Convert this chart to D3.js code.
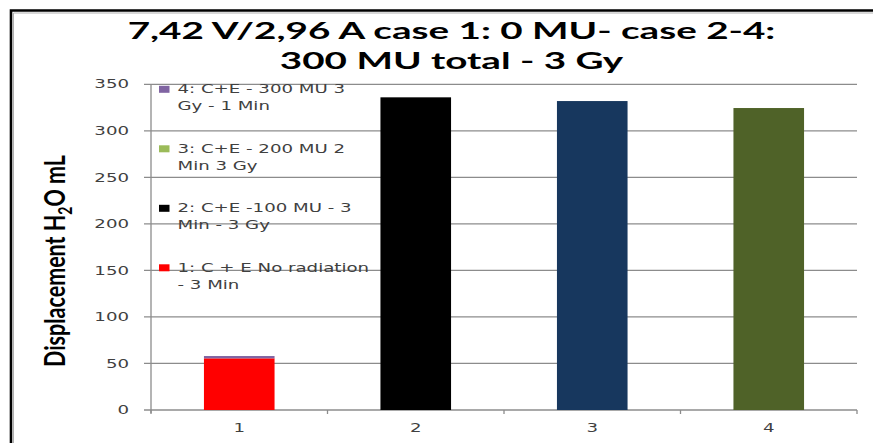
<!DOCTYPE html>
<html>
<head>
<meta charset="utf-8">
<script src="https://cdn.jsdelivr.net/npm/d3@7"></script>
<style>
  html, body { margin: 0; padding: 0; background: #fff; }
  svg { display: block; }
</style>
</head>
<body>
<svg id="chart" width="873" height="443"></svg>
<script>
// ---- data ----
const categories = ["1", "2", "3", "4"];
const seriesNames = ["case1", "case2", "case3", "case4"];
const seriesLabels = [
  ["1: C + E No radiation", "- 3 Min"],
  ["2: C+E -100 MU - 3", "Min - 3 Gy"],
  ["3: C+E - 200 MU 2", "Min 3 Gy"],
  ["4: C+E - 300 MU 3", "Gy - 1 Min"]
];
const case1 = [55.5, 0, 0, 0];
const case2 = [0, 336, 0, 0];
const case3 = [0, 0, 332, 0];
const case4 = [2.5, 0, 0, 324.5];
const seriesColors = ["#FF0000", "#000000", "#9BBB59", "#8064A2"];
// per-point fill overrides (series -> category -> colour)
const pointColors = { case3: { "3": "#17375E" }, case4: { "4": "#4F6228" } };
const yTicks = [0, 50, 100, 150, 200, 250, 300, 350];
const titleLines = ["7,42 V/2,96 A case 1: 0 MU- case 2-4:", "300 MU total - 3 Gy"];

// ---- layout ----
const svg = d3.select("#chart");
const plot = { left: 151, right: 857, top: 84.3, bottom: 410 };
const smallFont = "'DejaVu Sans', sans-serif";
const smallSize = 11.5;
const smallSx = 1.58;
const textGray = "#404040";
const gridGray = "#8C8C8C";

const x = d3.scaleBand().domain(categories)
  .range([plot.left, plot.right]).paddingInner(0.6).paddingOuter(0.3);
const y = d3.scaleLinear().domain([0, 350]).range([plot.bottom, plot.top]);

// horizontally stretched text helper
function label(parent, px, py, str, opts) {
  const t = parent.append("text")
    .attr("transform", `translate(${px},${py}) scale(${opts.sx || 1},1)`)
    .attr("text-anchor", opts.anchor || "start")
    .attr("font-family", opts.font || smallFont)
    .attr("font-size", opts.size || smallSize)
    .attr("font-weight", opts.weight || "normal")
    .attr("fill", opts.fill || textGray);
  if (opts.dy) t.attr("dy", opts.dy);
  t.text(str);
  return t;
}

// chart frame
svg.append("path")
  .attr("d", "M11,443 V10.5 H873")
  .attr("fill", "none").attr("stroke", "#000").attr("stroke-width", 2.6);
svg.append("path")
  .attr("d", "M13.5,443 V13 H873")
  .attr("fill", "none").attr("stroke", "#b0b0b0").attr("stroke-width", 1);

// title
const titleG = svg.append("g");
titleLines.forEach((line, i) => {
  label(titleG, 451.5, 39.3 + i * 30, line, {
    font: "Lato, 'Open Sans', sans-serif", size: 23, weight: "bold",
    sx: 1.68, anchor: "middle", fill: "#000"
  });
});

// gridlines + y ticks
const gridG = svg.append("g");
gridG.selectAll("line").data(yTicks).join("line")
  .attr("x1", plot.left - 7).attr("x2", plot.right)
  .attr("y1", d => y(d)).attr("y2", d => y(d))
  .attr("stroke", gridGray).attr("stroke-width", 1.3);
yTicks.forEach(v => {
  label(gridG, 129, y(v), String(v), { anchor: "end", sx: smallSx, dy: "0.36em" });
});

// y axis line
svg.append("line")
  .attr("x1", plot.left).attr("x2", plot.left)
  .attr("y1", plot.top).attr("y2", plot.bottom + 3)
  .attr("stroke", gridGray).attr("stroke-width", 1.3);

// x axis ticks at category boundaries
const bounds = d3.range(categories.length + 1)
  .map(i => plot.left + i * (plot.right - plot.left) / categories.length);
svg.append("g").selectAll("line").data(bounds).join("line")
  .attr("x1", d => d).attr("x2", d => d)
  .attr("y1", plot.bottom).attr("y2", plot.bottom + 4)
  .attr("stroke", gridGray).attr("stroke-width", 1.3);

// x labels
categories.forEach(c => {
  label(svg, x(c) + x.bandwidth() / 2, 432, c, { anchor: "middle", sx: smallSx });
});

// stacked bars
const values = { case1, case2, case3, case4 };
const table = categories.map((c, i) => {
  const row = { category: c };
  seriesNames.forEach(s => { row[s] = values[s][i]; });
  return row;
});
const stacked = d3.stack().keys(seriesNames)(table);
const barG = svg.append("g");
stacked.forEach((layer, si) => {
  const key = seriesNames[si];
  barG.append("g").selectAll("rect")
    .data(layer.filter(d => d[1] - d[0] > 0))
    .join("rect")
    .attr("x", d => x(d.data.category))
    .attr("width", x.bandwidth())
    .attr("y", d => y(d[1]))
    .attr("height", d => y(d[0]) - y(d[1]))
    .attr("fill", d => (pointColors[key] && pointColors[key][d.data.category]) || seriesColors[si]);
});

// legend (top entry is the last series)
const legendG = svg.append("g");
const legendTop = 93.3;
const legendStep = 59.5;
const lineGap = 17;
seriesNames.slice().reverse().forEach((s, j) => {
  const si = seriesNames.length - 1 - j;
  const base = legendTop + j * legendStep;
  legendG.append("rect")
    .attr("x", 159).attr("y", base - 7.5)
    .attr("width", 10.5).attr("height", 7)
    .attr("fill", seriesColors[si]);
  seriesLabels[si].forEach((ln, k) => {
    label(legendG, 177.5, base + k * lineGap, ln, { sx: smallSx });
  });
});

// y axis title with subscript
const yTitle = svg.append("text")
  .attr("transform", "translate(65,261) scale(1.3,1) rotate(-90)")
  .attr("text-anchor", "middle")
  .attr("font-family", "Lato, 'Open Sans', sans-serif")
  .attr("font-size", 21.5).attr("font-weight", "bold").attr("fill", "#000");
yTitle.append("tspan").text("Displacement H");
yTitle.append("tspan").attr("font-size", 14).attr("dy", 5).text("2");
yTitle.append("tspan").attr("dy", -5).text("O mL");
</script>
</body>
</html>
